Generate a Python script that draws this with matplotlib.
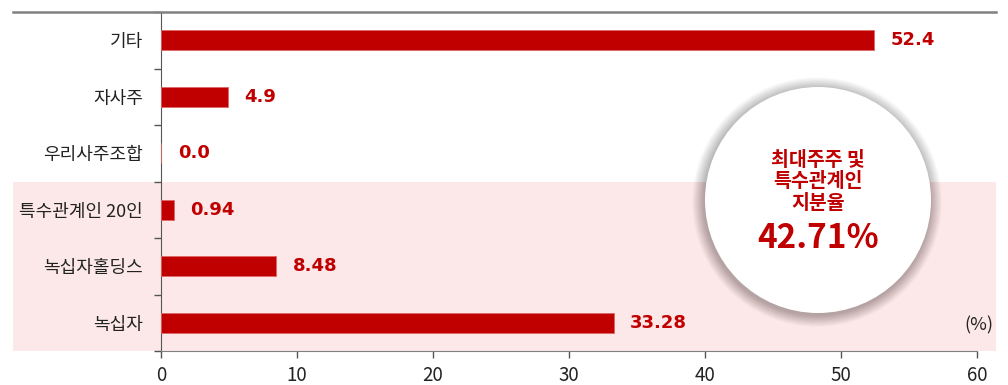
import numpy as np
import matplotlib
matplotlib.use("Agg")
import matplotlib.pyplot as plt
from matplotlib.patches import Rectangle, Circle
from matplotlib.transforms import blended_transform_factory

plt.rcParams['font.family'] = ['Noto Sans CJK KR', 'DejaVu Sans']

# data, bottom to top
categories = ['녹십자', '녹십자홀딩스', '특수관계인 20인', '우리사주조합', '자사주', '기타']
shares = [33.28, 8.48, 0.94, 0.0, 4.9, 52.4]
share_labels = ['33.28', '8.48', '0.94', '0.0', '4.9', '52.4']
x_ticks = [0, 10, 20, 30, 40, 50, 60]
circle_lines = ['최대주주 및', '특수관계인', '지분율']
circle_total = '42.71%'

RED = '#C00000'
PINK = '#FDE8E9'
GRAY = '#808080'

fig = plt.figure(figsize=(10.08, 3.85), dpi=100)
ax = fig.add_axes([161 / 1008, 34 / 385, 816 / 1008, 339 / 385])

y = np.arange(len(categories))
ax.barh(y, shares, height=0.36, color=RED, edgecolor='#E06666', linewidth=0.6, zorder=3)

for yi, val, lab in zip(y, shares, share_labels):
    ax.annotate(lab, (val, yi), xytext=(12, 0), textcoords='offset points',
                ha='left', va='center', color=RED, fontsize=13, fontweight='bold',
                family=['DejaVu Sans'], zorder=4)

ax.set_xlim(0, 60)
ax.set_ylim(-0.5, len(categories) - 0.5)
ax.set_xticks(x_ticks)
ax.set_xticklabels([str(t) for t in x_ticks], fontsize=13.5, color='#222222')
ax.set_yticks(y)
ax.set_yticklabels(categories, fontsize=13, color='#222222')
ax.tick_params(axis='y', length=0, pad=13)
ax.set_yticks(np.arange(-0.5, len(categories)), minor=True)
ax.tick_params(axis='y', which='minor', length=5, color='#555555', width=1)
ax.tick_params(axis='x', length=5, color='#555555', width=1, pad=5)

for s in ['top', 'right']:
    ax.spines[s].set_visible(False)
ax.spines['left'].set_color('#555555')
ax.spines['bottom'].set_color(GRAY)
ax.set_facecolor('none')

# pink band behind the lower three rows and top rule
tr = blended_transform_factory(fig.transFigure, ax.transData)
ax.add_patch(Rectangle((13 / 1008, -0.5), 983 / 1008, 3.0, transform=tr,
                       facecolor=PINK, edgecolor='none', clip_on=False, zorder=0))
ax.plot([13 / 1008, 996 / 1008], [len(categories) - 0.5] * 2, transform=tr,
        color=GRAY, lw=1.8, clip_on=False, zorder=5)

fig.text(993 / 1008, 1 - 325 / 385, '(%)', ha='right', va='center', fontsize=13, color='#222222')

# circle callout with soft shadow
cx, cy, r = 8.18, 1.85, 1.13
n_layers = 24
for i in range(n_layers):
    fig.patches.append(Circle((cx - 0.01, cy - 0.02), r + 0.12 - i * 0.12 / n_layers,
                              transform=fig.dpi_scale_trans, facecolor='black',
                              alpha=0.012, edgecolor='none', zorder=6))
fig.patches.append(Circle((cx, cy), r, transform=fig.dpi_scale_trans,
                          facecolor='white', edgecolor='none', zorder=7))

line_y = [160, 182, 204]
for txt, py in zip(circle_lines, line_y):
    fig.text(cx / 10.08, 1 - py / 385, txt, ha='center', va='center', fontsize=14,
             fontweight='black', color=RED, zorder=8)
fig.text(cx / 10.08, 1 - 238 / 385, circle_total, ha='center', va='center',
         fontsize=24, fontweight='black', color=RED, zorder=8)

fig.savefig('out.png', dpi=100)
